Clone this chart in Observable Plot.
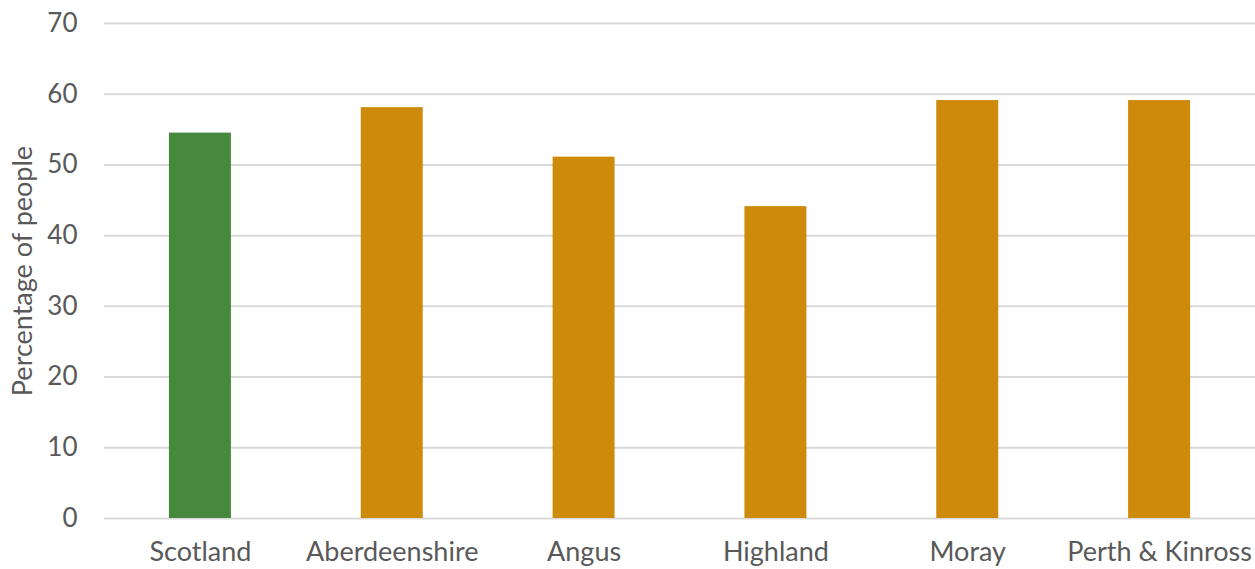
<!DOCTYPE html>
<html>
<head>
<meta charset="utf-8">
<script src="https://cdn.jsdelivr.net/npm/d3@7"></script>
<script src="https://cdn.jsdelivr.net/npm/@observablehq/plot@0.6"></script>
<style>
  html, body { margin: 0; padding: 0; background: #ffffff; }
  #chart svg { display: block; }
</style>
</head>
<body>
<div id="chart"></div>
<script>
// Share of people (%) by council area, compared with Scotland as a whole
const areas = ["Scotland", "Aberdeenshire", "Angus", "Highland", "Moray", "Perth & Kinross"];
const percentages = [54.5, 58.1, 51.1, 44.1, 59.1, 59.1];
const yTicks = [0, 10, 20, 30, 40, 50, 60, 70];

const nationalColour = "#46893D";
const councilColour = "#CE8A0B";
const inkColour = "#595959";

const rows = areas.map((area, i) => ({ area, value: percentages[i] }));

const chart = Plot.plot({
  width: 1255,
  height: 569,
  marginLeft: 104,
  marginRight: 0,
  marginTop: 23,
  marginBottom: 51,
  style: { fontFamily: "Lato, sans-serif", background: "#ffffff", color: inkColour },
  x: { domain: areas, paddingInner: 0.677, paddingOuter: 0.3385, round: false, label: null },
  y: { domain: [0, 70], label: "Percentage of people" },
  marks: [
    Plot.gridY(yTicks, { stroke: "#d9d9d9", strokeOpacity: 1, strokeWidth: 2 }),
    Plot.barY(rows, {
      x: "area",
      y: "value",
      fill: d => (d.area === "Scotland" ? nationalColour : councilColour)
    }),
    Plot.axisY(yTicks, {
      tickSize: 0,
      tickPadding: 27,
      fontSize: 26,
      fill: inkColour,
      label: "Percentage of people",
      labelAnchor: "center",
      labelArrow: "none",
      labelOffset: 92
    }),
    Plot.axisX({
      tickSize: 0,
      tickPadding: 23,
      fontSize: 27,
      fill: inkColour,
      label: null
    })
  ]
});

// Axis title size
d3.select(chart).selectAll("[aria-label='y-axis label'] text").attr("font-size", 27);

document.getElementById("chart").appendChild(chart);
</script>
</body>
</html>
